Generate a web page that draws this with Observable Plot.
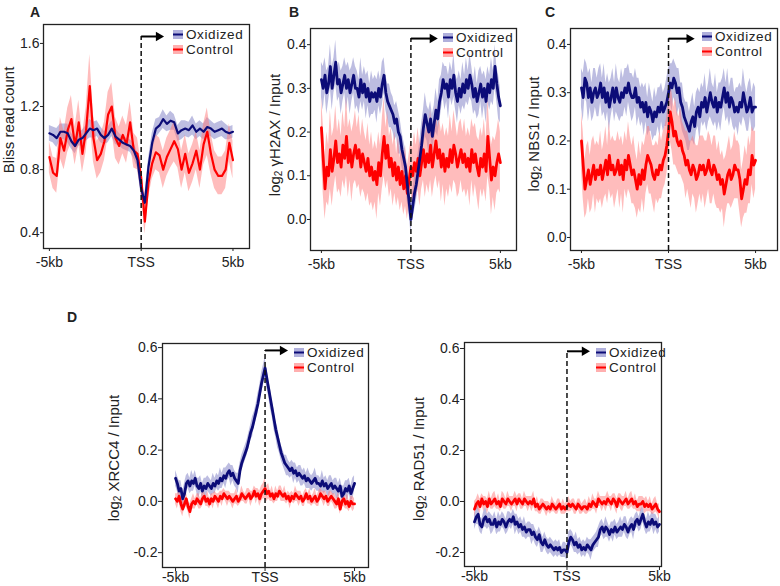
<!DOCTYPE html>
<html>
<head>
<meta charset="utf-8">
<script src="https://cdn.jsdelivr.net/npm/d3@7"></script>
<script src="https://cdn.jsdelivr.net/npm/@observablehq/plot@0.6"></script>
<style>
  html, body { margin: 0; padding: 0; background: #fff; }
  #chart { position: relative; width: 780px; height: 586px; background: #fff; overflow: hidden;
           font-family: "Liberation Sans", Arial, sans-serif; color: #222; }
  .abs { position: absolute; }
  .letter { font-weight: bold; font-size: 14px; line-height: 14px; }
  .ylab { font-size: 15px; line-height: 15px; white-space: nowrap; transform: translate(-50%, -50%) rotate(-90deg); }
  .ylab sub { font-size: 10px; vertical-align: -2px; line-height: 0; }
  .leg { font-size: 13.5px; line-height: 15.5px; white-space: nowrap; letter-spacing: 0.6px; }
  .legrow { display: flex; align-items: center; height: 15.5px; }
  .legrow span { margin-left: 3px; line-height: 15.5px; }
</style>
</head>
<body>
<div id="chart"></div>
<script>
// ---------------- data ----------------
const seriesNames = ["Oxidized", "Control"];
const kbTicks = [-5, 0, 5];
const kbLabels = ["-5kb", "TSS", "5kb"];

// Panel A: Bliss read count, bins of 0.2 kb from -5 to 5
const aOxidized = [1.03,1.02,1.00,1.04,1.04,1.03,0.98,0.95,0.99,1.00,1.03,1.06,1.05,1.06,1.02,1.00,1.02,1.06,1.01,0.99,0.97,0.96,0.95,0.92,0.86,0.68,
  0.59,0.82,0.97,1.06,1.08,1.12,1.09,1.11,1.10,1.03,1.05,1.06,1.05,1.08,1.04,1.06,1.04,1.07,1.06,1.04,1.05,1.06,1.04,1.03,1.04];
const aOxidizedSE = [0.05,0.05,0.06,0.05,0.05,0.06,0.05,0.05,0.04,0.05,0.05,0.06,0.05,0.05,0.05,0.04,0.05,0.05,0.05,0.04,0.04,0.04,0.04,0.05,0.05,0.05,
  0.05,0.05,0.06,0.06,0.05,0.06,0.05,0.06,0.05,0.05,0.06,0.05,0.05,0.06,0.05,0.05,0.05,0.06,0.05,0.05,0.05,0.05,0.05,0.04,0.04];
const aControl = [0.88,0.78,0.76,1.00,0.92,1.05,1.12,0.95,1.10,0.90,1.05,1.33,1.00,0.86,0.90,0.98,1.15,1.20,1.00,0.95,1.02,0.96,1.10,0.92,0.90,0.75,
  0.47,0.72,0.84,0.91,0.89,0.80,0.88,0.93,0.98,0.93,0.80,0.90,0.78,0.84,0.92,0.80,0.96,1.04,0.90,0.80,0.76,0.76,0.80,0.97,0.86];
const aControlSE = [0.10,0.10,0.11,0.13,0.12,0.14,0.15,0.12,0.14,0.12,0.14,0.20,0.15,0.12,0.12,0.12,0.14,0.15,0.13,0.12,0.12,0.12,0.13,0.11,0.10,0.09,
  0.08,0.10,0.10,0.11,0.11,0.12,0.12,0.12,0.13,0.12,0.12,0.12,0.12,0.12,0.12,0.12,0.13,0.15,0.13,0.12,0.12,0.12,0.12,0.12,0.12];

// Panel B: log2 γH2AX / Input, bins of 0.1 kb
const bOxidized = [0.32,0.30,0.33,0.29,0.31,0.35,0.30,0.33,0.36,0.31,
  0.32,0.29,0.31,0.33,0.30,0.32,0.29,0.31,0.33,0.30,
  0.30,0.28,0.32,0.29,0.31,0.28,0.30,0.27,0.29,0.28,
  0.29,0.27,0.30,0.28,0.31,0.33,0.29,0.27,0.26,0.25,
  0.24,0.22,0.23,0.20,0.19,0.16,0.14,0.12,0.08,0.04,
  0.00,0.03,0.06,0.08,0.11,0.14,0.17,0.21,0.24,0.22,
  0.20,0.23,0.19,0.22,0.25,0.23,0.27,0.29,0.32,0.30,
  0.31,0.28,0.32,0.30,0.33,0.29,0.27,0.30,0.28,0.31,
  0.29,0.32,0.30,0.33,0.31,0.28,0.30,0.27,0.29,0.31,
  0.28,0.30,0.27,0.31,0.29,0.32,0.30,0.35,0.31,0.28,
  0.26];
const bOxidizedSE = [0.04,0.05,0.04,0.05,0.04,0.05,0.05,0.04,0.05,0.04,
  0.04,0.05,0.04,0.04,0.05,0.04,0.05,0.04,0.04,0.05,
  0.04,0.04,0.05,0.04,0.04,0.05,0.04,0.04,0.05,0.04,
  0.04,0.05,0.04,0.04,0.05,0.04,0.04,0.04,0.05,0.04,
  0.04,0.04,0.04,0.05,0.04,0.04,0.04,0.04,0.04,0.03,
  0.03,0.03,0.04,0.04,0.04,0.04,0.05,0.04,0.05,0.04,
  0.05,0.04,0.05,0.04,0.05,0.04,0.05,0.04,0.04,0.05,
  0.04,0.05,0.04,0.04,0.05,0.04,0.05,0.04,0.04,0.05,
  0.04,0.05,0.04,0.05,0.04,0.04,0.05,0.04,0.05,0.04,
  0.05,0.04,0.05,0.04,0.04,0.05,0.04,0.05,0.04,0.05,
  0.04];
const bControl = [0.21,0.14,0.07,0.12,0.10,0.16,0.11,0.14,0.18,0.13,
  0.15,0.12,0.17,0.14,0.19,0.13,0.16,0.12,0.15,0.17,
  0.14,0.16,0.12,0.15,0.13,0.11,0.14,0.10,0.12,0.09,
  0.11,0.08,0.13,0.10,0.15,0.19,0.14,0.17,0.12,0.14,
  0.10,0.13,0.09,0.12,0.08,0.11,0.07,0.10,0.06,0.09,
  0.12,0.10,0.13,0.11,0.14,0.10,0.13,0.16,0.12,0.15,
  0.13,0.17,0.12,0.15,0.18,0.14,0.16,0.12,0.15,0.11,
  0.14,0.12,0.16,0.13,0.17,0.15,0.12,0.14,0.16,0.13,
  0.15,0.12,0.14,0.11,0.16,0.13,0.15,0.12,0.10,0.14,
  0.12,0.15,0.11,0.19,0.14,0.09,0.12,0.10,0.13,0.15,
  0.13];
const bControlSE = [0.07,0.08,0.07,0.08,0.07,0.09,0.08,0.07,0.08,0.07,
  0.08,0.07,0.08,0.07,0.09,0.08,0.07,0.08,0.07,0.08,
  0.07,0.08,0.07,0.08,0.07,0.07,0.08,0.07,0.08,0.07,
  0.07,0.08,0.07,0.07,0.08,0.09,0.07,0.08,0.07,0.07,
  0.07,0.07,0.06,0.07,0.06,0.07,0.06,0.07,0.06,0.06,
  0.06,0.06,0.07,0.06,0.07,0.07,0.06,0.07,0.07,0.07,
  0.07,0.08,0.07,0.07,0.08,0.07,0.07,0.08,0.07,0.08,
  0.07,0.07,0.08,0.07,0.08,0.07,0.07,0.08,0.07,0.07,
  0.08,0.07,0.07,0.08,0.07,0.08,0.07,0.07,0.08,0.07,
  0.07,0.08,0.07,0.09,0.07,0.08,0.07,0.08,0.07,0.08,
  0.07];

// Panel C: log2 NBS1 / Input, bins of 0.1 kb
const cOxidized = [0.31,0.29,0.33,0.32,0.29,0.31,0.28,0.30,0.31,0.29,
  0.30,0.32,0.29,0.31,0.28,0.30,0.27,0.29,0.31,0.28,
  0.31,0.29,0.28,0.30,0.29,0.31,0.30,0.32,0.30,0.29,
  0.29,0.31,0.28,0.29,0.27,0.28,0.26,0.28,0.25,0.27,
  0.26,0.24,0.26,0.25,0.27,0.26,0.28,0.26,0.27,0.28,
  0.30,0.32,0.31,0.33,0.32,0.30,0.31,0.28,0.27,0.25,
  0.24,0.23,0.22,0.24,0.25,0.23,0.26,0.27,0.25,0.28,
  0.27,0.29,0.26,0.28,0.30,0.28,0.27,0.29,0.26,0.28,
  0.27,0.29,0.31,0.28,0.30,0.27,0.29,0.28,0.26,0.27,
  0.26,0.28,0.27,0.30,0.28,0.26,0.27,0.29,0.26,0.27,
  0.27];
const cOxidizedSE = [0.04,0.05,0.04,0.04,0.05,0.04,0.04,0.05,0.04,0.04,
  0.05,0.04,0.04,0.05,0.04,0.04,0.05,0.04,0.04,0.04,
  0.05,0.04,0.04,0.05,0.04,0.04,0.05,0.04,0.04,0.05,
  0.04,0.04,0.05,0.04,0.04,0.04,0.05,0.04,0.04,0.05,
  0.04,0.04,0.05,0.04,0.04,0.05,0.04,0.04,0.04,0.05,
  0.05,0.04,0.05,0.04,0.04,0.05,0.04,0.04,0.05,0.04,
  0.04,0.05,0.04,0.04,0.05,0.04,0.04,0.04,0.05,0.04,
  0.04,0.05,0.04,0.04,0.05,0.04,0.04,0.05,0.04,0.04,
  0.05,0.04,0.04,0.04,0.05,0.04,0.04,0.05,0.04,0.04,
  0.05,0.04,0.04,0.05,0.04,0.04,0.05,0.04,0.04,0.05,
  0.04];
const cControl = [0.20,0.15,0.10,0.12,0.14,0.11,0.13,0.15,0.12,0.14,
  0.13,0.15,0.12,0.14,0.16,0.13,0.17,0.14,0.15,0.13,
  0.14,0.16,0.13,0.15,0.12,0.16,0.14,0.17,0.15,0.13,
  0.14,0.12,0.10,0.13,0.11,0.14,0.12,0.15,0.17,0.16,
  0.15,0.13,0.12,0.14,0.13,0.15,0.14,0.16,0.17,0.19,
  0.22,0.26,0.24,0.21,0.22,0.20,0.19,0.20,0.18,0.17,
  0.15,0.16,0.14,0.13,0.15,0.14,0.12,0.13,0.15,0.14,
  0.15,0.13,0.14,0.16,0.14,0.13,0.15,0.14,0.12,0.13,
  0.11,0.12,0.09,0.11,0.13,0.14,0.12,0.13,0.15,0.14,
  0.14,0.12,0.08,0.10,0.12,0.11,0.14,0.13,0.17,0.15,
  0.16];
const cControlSE = [0.06,0.07,0.06,0.07,0.06,0.06,0.07,0.06,0.07,0.06,
  0.06,0.07,0.06,0.06,0.07,0.06,0.07,0.06,0.06,0.07,
  0.06,0.06,0.07,0.06,0.07,0.06,0.06,0.07,0.06,0.06,
  0.07,0.06,0.06,0.07,0.06,0.06,0.07,0.06,0.06,0.07,
  0.06,0.06,0.07,0.06,0.06,0.07,0.06,0.06,0.06,0.06,
  0.06,0.06,0.06,0.06,0.07,0.06,0.06,0.07,0.06,0.06,
  0.07,0.06,0.06,0.07,0.06,0.06,0.07,0.06,0.06,0.07,
  0.06,0.07,0.06,0.06,0.07,0.06,0.06,0.07,0.06,0.07,
  0.06,0.06,0.07,0.06,0.06,0.07,0.06,0.06,0.07,0.06,
  0.06,0.07,0.06,0.06,0.07,0.06,0.07,0.06,0.06,0.07,
  0.06];

// Panel D (left): log2 XRCC4 / Input, bins of 0.1 kb
const dOxidized = [0.09,0.07,0.04,0.05,0.01,0.03,0.07,0.08,0.06,0.08,
  0.07,0.09,0.06,0.05,0.07,0.04,0.06,0.05,0.07,0.06,
  0.05,0.07,0.06,0.08,0.07,0.09,0.08,0.10,0.09,0.11,
  0.12,0.10,0.11,0.09,0.08,0.07,0.12,0.15,0.17,0.19,
  0.21,0.24,0.27,0.29,0.32,0.35,0.38,0.42,0.46,0.49,
  0.52,0.48,0.44,0.40,0.36,0.32,0.28,0.25,0.22,0.19,
  0.17,0.15,0.14,0.13,0.12,0.13,0.11,0.12,0.10,0.11,
  0.10,0.09,0.10,0.08,0.09,0.08,0.07,0.08,0.09,0.07,
  0.07,0.06,0.08,0.06,0.07,0.05,0.06,0.07,0.05,0.06,
  0.05,0.04,0.06,0.02,0.03,0.05,0.04,0.06,0.03,0.05,
  0.07];
const dOxidizedSE = [0.03,0.03,0.04,0.03,0.03,0.04,0.03,0.03,0.03,0.04,
  0.03,0.03,0.03,0.04,0.03,0.03,0.03,0.04,0.03,0.03,
  0.03,0.04,0.03,0.03,0.03,0.04,0.03,0.03,0.04,0.03,
  0.03,0.04,0.03,0.03,0.03,0.04,0.03,0.03,0.03,0.03,
  0.03,0.03,0.03,0.04,0.03,0.03,0.04,0.03,0.04,0.04,
  0.04,0.04,0.03,0.04,0.03,0.04,0.03,0.04,0.03,0.03,
  0.03,0.03,0.04,0.03,0.03,0.03,0.04,0.03,0.03,0.03,
  0.04,0.03,0.03,0.03,0.04,0.03,0.03,0.03,0.04,0.03,
  0.03,0.03,0.04,0.03,0.03,0.03,0.04,0.03,0.03,0.03,
  0.04,0.03,0.03,0.04,0.03,0.03,0.04,0.03,0.03,0.04,
  0.03];
const dControl = [0.01,0.00,0.02,-0.01,-0.03,-0.01,0.01,-0.02,-0.04,-0.01,
  0.00,-0.01,0.01,0.00,-0.01,0.01,0.02,0.00,0.01,-0.01,
  0.01,0.00,0.02,0.01,0.00,0.02,0.01,0.03,0.02,0.01,
  0.02,0.01,0.00,0.01,0.02,0.00,0.01,0.03,0.02,0.01,
  0.02,0.03,0.01,0.02,0.04,0.02,0.03,0.01,0.03,0.04,
  0.05,0.03,0.04,0.02,0.03,0.01,0.03,0.02,0.04,0.03,
  0.02,0.03,0.01,0.02,0.00,0.02,0.01,0.03,0.02,0.01,
  0.02,0.00,0.01,0.03,0.01,0.02,0.00,0.01,0.02,0.00,
  0.01,0.03,0.02,0.01,0.02,0.00,0.01,0.02,0.01,0.00,
  -0.01,0.01,-0.03,0.00,0.01,-0.01,0.00,-0.02,0.00,-0.01,
  -0.01];
const dControlSE = [0.02,0.03,0.02,0.03,0.03,0.02,0.03,0.02,0.03,0.02,
  0.03,0.02,0.02,0.03,0.02,0.03,0.02,0.02,0.03,0.02,
  0.02,0.03,0.02,0.02,0.03,0.02,0.03,0.02,0.02,0.03,
  0.02,0.02,0.03,0.02,0.03,0.02,0.02,0.03,0.02,0.02,
  0.03,0.02,0.03,0.02,0.02,0.03,0.02,0.03,0.03,0.03,
  0.04,0.03,0.03,0.02,0.03,0.02,0.03,0.02,0.02,0.03,
  0.02,0.03,0.02,0.02,0.03,0.02,0.02,0.03,0.02,0.03,
  0.02,0.02,0.03,0.02,0.02,0.03,0.02,0.02,0.03,0.02,
  0.03,0.02,0.02,0.03,0.02,0.02,0.03,0.02,0.02,0.03,
  0.02,0.03,0.02,0.02,0.03,0.02,0.03,0.02,0.02,0.03,
  0.02];

// Panel D (right): log2 RAD51 / Input, bins of 0.1 kb
const eOxidized = [-0.08,-0.06,-0.05,-0.09,-0.10,-0.07,-0.06,-0.08,-0.07,-0.09,
  -0.09,-0.07,-0.10,-0.08,-0.09,-0.07,-0.08,-0.10,-0.08,-0.07,
  -0.08,-0.06,-0.09,-0.08,-0.10,-0.09,-0.11,-0.10,-0.12,-0.11,
  -0.11,-0.13,-0.12,-0.14,-0.15,-0.13,-0.16,-0.17,-0.15,-0.17,
  -0.18,-0.17,-0.18,-0.19,-0.18,-0.19,-0.18,-0.20,-0.19,-0.19,
  -0.20,-0.16,-0.14,-0.15,-0.17,-0.16,-0.18,-0.17,-0.19,-0.18,
  -0.19,-0.17,-0.18,-0.19,-0.17,-0.16,-0.15,-0.14,-0.11,-0.10,
  -0.12,-0.10,-0.11,-0.13,-0.11,-0.12,-0.10,-0.12,-0.11,-0.10,
  -0.11,-0.09,-0.10,-0.12,-0.10,-0.09,-0.11,-0.08,-0.07,-0.09,
  -0.07,-0.05,-0.08,-0.10,-0.08,-0.09,-0.07,-0.09,-0.08,-0.10,
  -0.09];
const eOxidizedSE = [0.03,0.03,0.04,0.03,0.03,0.03,0.04,0.03,0.03,0.04,
  0.03,0.03,0.03,0.04,0.03,0.03,0.03,0.03,0.04,0.03,
  0.03,0.03,0.04,0.03,0.03,0.03,0.03,0.04,0.03,0.03,
  0.03,0.04,0.03,0.03,0.03,0.03,0.04,0.03,0.03,0.03,
  0.03,0.03,0.03,0.03,0.03,0.03,0.03,0.02,0.03,0.03,
  0.03,0.04,0.03,0.03,0.03,0.04,0.03,0.03,0.03,0.03,
  0.03,0.03,0.03,0.04,0.03,0.03,0.03,0.04,0.03,0.03,
  0.03,0.04,0.03,0.03,0.03,0.04,0.03,0.03,0.03,0.04,
  0.03,0.03,0.04,0.03,0.03,0.03,0.04,0.03,0.03,0.03,
  0.04,0.03,0.03,0.03,0.04,0.03,0.03,0.04,0.03,0.03,
  0.03];
const eControl = [-0.03,-0.01,0.00,-0.02,0.01,-0.01,0.00,-0.02,0.01,-0.01,
  0.00,0.01,-0.01,0.00,-0.02,0.01,0.00,-0.01,0.01,0.00,
  -0.01,0.00,0.01,-0.01,0.01,0.00,-0.01,0.01,0.00,-0.01,
  0.00,-0.01,0.01,-0.02,-0.01,-0.03,-0.02,-0.01,-0.02,-0.03,
  -0.02,-0.03,-0.01,-0.02,-0.03,-0.02,-0.01,-0.03,-0.02,-0.03,
  -0.02,-0.01,-0.02,-0.01,-0.02,-0.03,-0.01,-0.02,-0.03,-0.02,
  -0.02,-0.03,-0.01,-0.02,0.00,-0.01,-0.02,0.01,0.00,-0.01,
  0.00,-0.01,0.01,0.00,-0.01,0.01,0.00,-0.02,0.01,0.00,
  -0.01,0.00,0.01,-0.01,0.00,0.01,-0.01,0.00,-0.02,-0.01,
  -0.01,0.00,-0.02,-0.01,-0.02,-0.01,-0.03,-0.02,-0.01,-0.03,
  -0.04];
const eControlSE = [0.03,0.02,0.03,0.03,0.02,0.03,0.02,0.03,0.03,0.02,
  0.03,0.03,0.02,0.03,0.02,0.03,0.03,0.02,0.03,0.02,
  0.03,0.02,0.03,0.03,0.02,0.03,0.02,0.03,0.02,0.03,
  0.02,0.03,0.03,0.02,0.03,0.02,0.03,0.02,0.02,0.03,
  0.02,0.02,0.03,0.02,0.02,0.03,0.02,0.02,0.03,0.02,
  0.02,0.03,0.02,0.02,0.03,0.02,0.02,0.03,0.02,0.02,
  0.03,0.02,0.03,0.02,0.03,0.02,0.03,0.03,0.02,0.03,
  0.02,0.03,0.03,0.02,0.03,0.02,0.03,0.03,0.02,0.03,
  0.03,0.02,0.03,0.02,0.03,0.03,0.02,0.03,0.02,0.03,
  0.03,0.02,0.03,0.03,0.02,0.03,0.02,0.03,0.03,0.02,
  0.03];

// annotation: height of the TSS arrow and where its head sits (kb)
const arrowLevels = [1.644, 0.414, 0.412, 0.589, 0.589];
const arrowHeads = [0.95, 1.2, 1.19, 0.98, 0.95];

// ---------------- styling ----------------
const NAVY = "#0c0c78", NAVY_BAND = "#7b7bc4";
const RED = "#ff0000", RED_BAND = "#ff7a7a";
const INK = "#222";

function series(values, se, step) {
  return values.map((v, i) => ({ x: -5 + i * step, v, lo: v - se[i], hi: v + se[i] }));
}

const panels = [
  { letter: "A", letterPos: [30, 5],
    ylabel: "Bliss read count", ylabelPos: [8, 120],
    left: 0, top: 0, width: 260, height: 290, mL: 43, mR: 11, mT: 24, mB: 42,
    xDomain: [-5.32, 5.9], yDomain: [0.30, 1.72], yTicks: [0.4, 0.8, 1.2, 1.6],
    xPad: 6, yPad: 1, tick: 3, lw: 2.2,
    ox: series(aOxidized, aOxidizedSE, 0.2), ct: series(aControl, aControlSE, 0.2),
    legend: [173, 26.5] },
  { letter: "B", letterPos: [289, 5],
    ylabel: "log<sub>2</sub> \u03B3H2AX / Input", ylabelPos: [274, 135],
    left: 260, top: 0, width: 260, height: 290, mL: 50, mR: 4, mT: 28, mB: 40,
    xDomain: [-5.61, 5.9], yDomain: [-0.071, 0.437], yTicks: [0, 0.1, 0.2, 0.3, 0.4],
    xPad: 6, yPad: 1, tick: 3, lw: 2.8,
    ox: series(bOxidized, bOxidizedSE, 0.1), ct: series(bControl, bControlSE, 0.1),
    legend: [443, 29.5] },
  { letter: "C", letterPos: [545, 5],
    ylabel: "log<sub>2</sub> NBS1 / Input", ylabelPos: [533, 134],
    left: 520, top: 0, width: 260, height: 290, mL: 50, mR: 3, mT: 28, mB: 40,
    xDomain: [-5.63, 6.26], yDomain: [-0.027, 0.433], yTicks: [0, 0.1, 0.2, 0.3, 0.4],
    xPad: 6, yPad: 1, tick: 3, lw: 2.8,
    ox: series(cOxidized, cOxidizedSE, 0.1), ct: series(cControl, cControlSE, 0.1),
    legend: [702, 28.5] },
  { letter: "D", letterPos: [67, 310],
    ylabel: "log<sub>2</sub> XRCC4 / Input", ylabelPos: [113, 458],
    left: 120, top: 300, width: 260, height: 286, mL: 42, mR: 12, mT: 43, mB: 19,
    xDomain: [-5.73, 5.78], yDomain: [-0.258, 0.616], yTicks: [-0.2, 0, 0.2, 0.4, 0.6],
    xPad: 1, yPad: 1, tick: 4, lw: 2.8,
    ox: series(dOxidized, dOxidizedSE, 0.1), ct: series(dControl, dControlSE, 0.1),
    legend: [294, 344.5] },
  { letter: null,
    ylabel: "log<sub>2</sub> RAD51 / Input", ylabelPos: [418, 459],
    left: 420, top: 300, width: 260, height: 286, mL: 44, mR: 19, mT: 42, mB: 20,
    xDomain: [-5.54, 5.11], yDomain: [-0.255, 0.6235], yTicks: [-0.2, 0, 0.2, 0.4, 0.6],
    xPad: 1, yPad: 1, tick: 4, lw: 2.8,
    ox: series(eOxidized, eOxidizedSE, 0.1), ct: series(eControl, eControlSE, 0.1),
    legend: [596, 344.5] }
];

const chart = document.getElementById("chart");

panels.forEach((p, k) => {
  const ay = arrowLevels[k], ah = arrowHeads[k];
  const svg = Plot.plot({
    width: p.width, height: p.height,
    marginLeft: p.mL, marginRight: p.mR, marginTop: p.mT, marginBottom: p.mB,
    x: { domain: p.xDomain },
    y: { domain: p.yDomain },
    style: { fontFamily: "'Liberation Sans', Arial, sans-serif", fontSize: "14px", color: INK, background: "transparent", overflow: "visible" },
    marks: [
      Plot.areaY(p.ox, { x: "x", y1: "lo", y2: "hi", fill: NAVY_BAND, fillOpacity: 0.5 }),
      Plot.areaY(p.ct, { x: "x", y1: "lo", y2: "hi", fill: RED_BAND, fillOpacity: 0.5 }),
      Plot.lineY(p.ct, { x: "x", y: "v", stroke: RED, strokeWidth: p.lw, strokeLinejoin: "round" }),
      Plot.lineY(p.ox, { x: "x", y: "v", stroke: NAVY, strokeWidth: p.lw, strokeLinejoin: "round" }),
      Plot.ruleX([0], { y1: p.yDomain[0], y2: ay, stroke: "#111", strokeWidth: 1.5, strokeDasharray: "5,3" }),
      Plot.link([{ x1: 0, x2: ah, y: ay }], { x1: "x1", x2: "x2", y1: "y", y2: "y", stroke: "#000", strokeWidth: 2 }),
      Plot.dot([{ x: ah, y: ay }], { x: "x", y: "y", symbol: "triangle", rotate: 90, r: 3.5, fill: "#000", stroke: null }),
      Plot.frame({ stroke: INK, strokeWidth: 1.3 }),
      Plot.axisX(kbTicks, { tickSize: p.tick, tickPadding: p.xPad, tickFormat: d => kbLabels[kbTicks.indexOf(d)], label: null, stroke: INK, fill: INK, fontSize: 14 }),
      Plot.axisY(p.yTicks, { tickSize: p.tick, tickPadding: p.yPad, tickFormat: d => d.toFixed(1), label: null, stroke: INK, fill: INK, fontSize: 14 })
    ]
  });
  svg.classList.add("abs");
  svg.style.left = p.left + "px";
  svg.style.top = p.top + "px";
  chart.appendChild(svg);

  if (p.letter) {
    const L = document.createElement("div");
    L.className = "abs letter";
    L.style.left = p.letterPos[0] + "px";
    L.style.top = p.letterPos[1] + "px";
    L.textContent = p.letter;
    chart.appendChild(L);
  }

  const Y = document.createElement("div");
  Y.className = "abs ylab";
  Y.style.left = p.ylabelPos[0] + "px";
  Y.style.top = p.ylabelPos[1] + "px";
  Y.innerHTML = p.ylabel;
  chart.appendChild(Y);

  const leg = document.createElement("div");
  leg.className = "abs leg";
  leg.style.left = p.legend[0] + "px";
  leg.style.top = p.legend[1] + "px";
  const cols = [[NAVY_BAND, NAVY], [RED_BAND, RED]];
  leg.innerHTML = seriesNames.map((name, i) =>
    `<div class="legrow"><svg width="10" height="9"><rect width="10" height="9" fill="${cols[i][0]}" fill-opacity="0.6"/><rect y="3.5" width="10" height="2" fill="${cols[i][1]}"/></svg><span>${name}</span></div>`
  ).join("");
  chart.appendChild(leg);
});
</script>
</body>
</html>
